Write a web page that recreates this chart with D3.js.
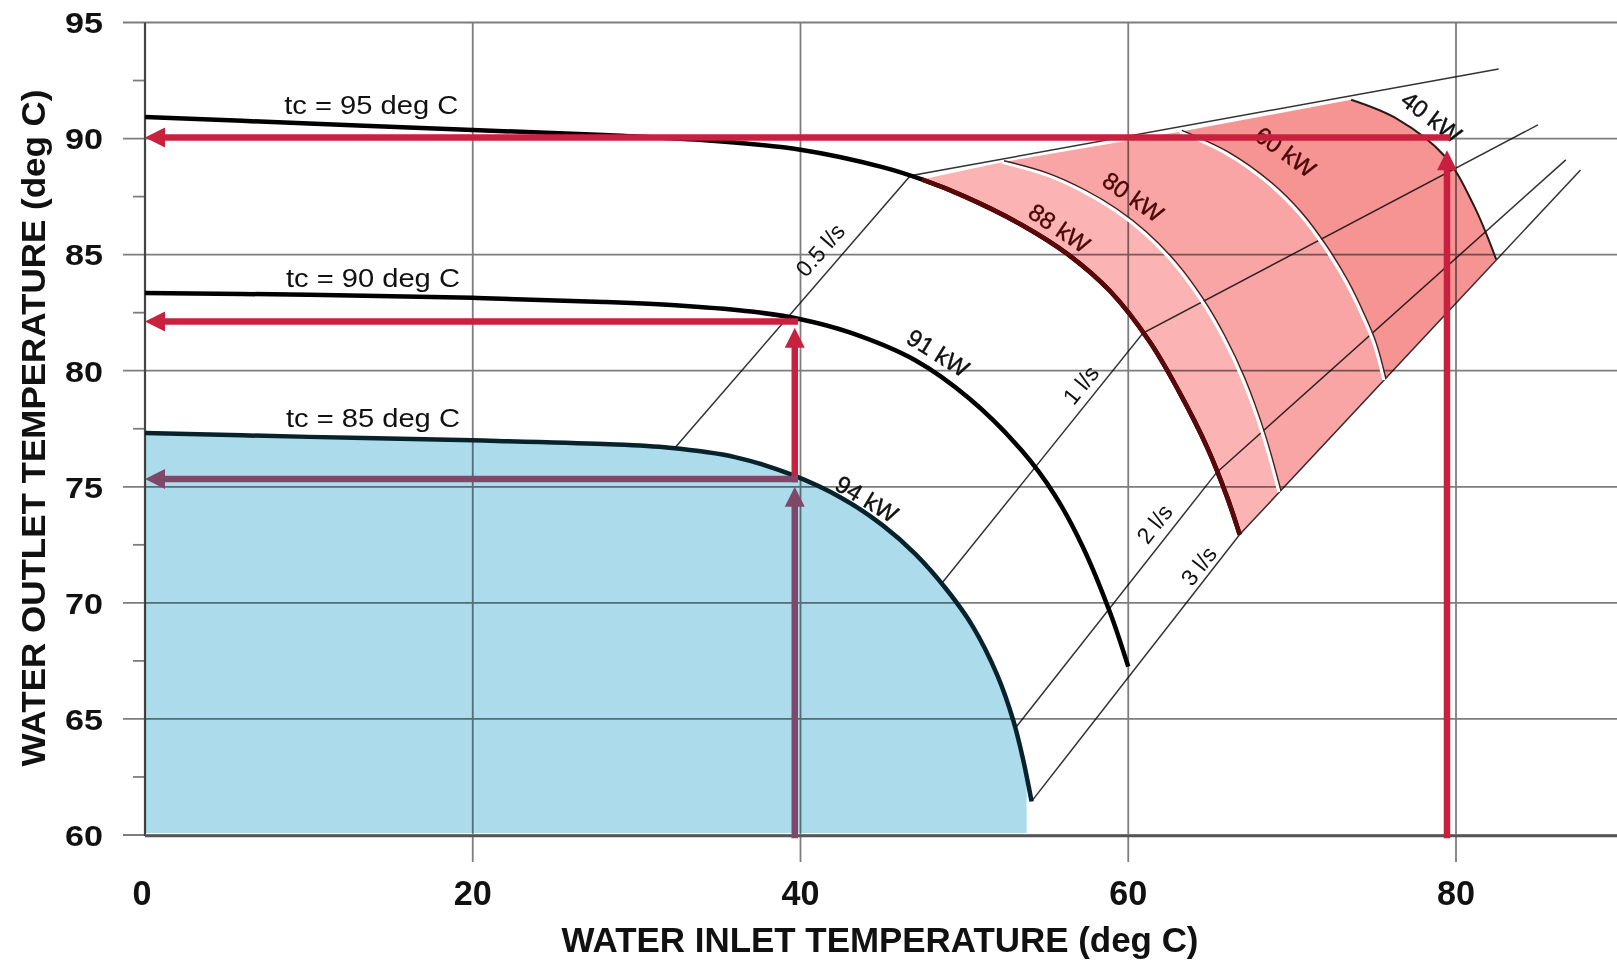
<!DOCTYPE html>
<html>
<head>
<meta charset="utf-8">
<script src="https://cdn.jsdelivr.net/npm/d3@7"></script>
<style>
html, body { margin: 0; padding: 0; background: #fff; }
svg { display: block; font-family: "Liberation Sans", Arial, sans-serif; }
</style>
</head>
<body>
<div id="chart"></div>
<script>
// --- --- Data (deg C) --- ---

var xTicks = [0, 20, 40, 60, 80];
var yTicks = [60, 65, 70, 75, 80, 85, 90, 95];
var yMinor = [62.5, 67.5, 72.5, 77.5, 82.5, 87.5, 92.5];

// outlet temperature for constant tc
var tc95X = [0, 10, 20, 28, 34, 40, 45, 47.4, 50, 53.4, 56.4, 58.9, 61.3, 63.1, 64.8, 66.0, 66.8];
var tc95Y = [90.93, 90.65, 90.37, 90.15, 89.94, 89.52, 88.77, 88.24, 87.51, 86.32, 84.97, 83.42, 81.26, 79.1, 76.72, 74.62, 72.94];
var tc90X = [0, 10, 20, 28, 33, 37, 40, 43, 47, 50.3, 53.5, 55.5, 57.2, 58.9, 60.0];
var tc90Y = [83.35, 83.27, 83.14, 82.96, 82.79, 82.55, 82.22, 81.65, 80.45, 78.8, 76.56, 74.66, 72.45, 69.56, 67.25];
var tc85X = [0, 10, 20, 28, 32, 36, 39.5, 42.5, 45, 47, 49, 50.5, 52, 53, 53.6, 54.1];
var tc85Y = [77.32, 77.15, 77.0, 76.84, 76.68, 76.28, 75.51, 74.52, 73.35, 72.11, 70.5, 69.0, 66.9, 64.9, 63.2, 61.45];
var tcLabels = ["tc = 95 deg C", "tc = 90 deg C", "tc = 85 deg C"];
var tcLabelX = [8.5, 8.6, 8.6];
var tcLabelY = [91.05, 83.6, 77.58];

// blue area ends here
var blueEndX = 53.8;

// flow rate lines
var flow05X = [32.3, 46.7, 82.6], flow05Y = [76.65, 88.4, 93.0];
var flow1X = [48.6, 60.9, 85.0], flow1Y = [70.82, 81.62, 90.59];
var flow2X = [53.1, 65.4, 86.7], flow2Y = [64.6, 75.62, 89.08];
var flow3X = [54.1, 66.8, 87.6], flow3Y = [61.45, 72.94, 88.65];
var flowLabels = ["0.5 l/s", "1 l/s", "2 l/s", "3 l/s"];
var flowLabelX = [41.2, 57.1, 61.6, 64.3];
var flowLabelY = [85.2, 79.39, 73.4, 71.59];

// pink region: top edge and kW isolines
var pinkTopX = [47.4, 52.3, 63.15, 73.6];
var pinkTopY = [88.24, 88.98, 90.29, 91.67];
var kw80X = [52.3, 55.0, 57.2, 59.2, 61.0, 62.8, 64.4, 65.8, 67.0, 68.2, 69.2];
var kw80Y = [88.98, 88.44, 87.74, 86.9, 85.91, 84.61, 83.09, 81.41, 79.61, 77.27, 74.77];
var kw60X = [63.15, 66.0, 68.6, 70.5, 72.0, 73.3, 74.3, 75.0, 75.6];
var kw60Y = [90.29, 89.35, 88.05, 86.72, 85.3, 83.8, 82.35, 81.16, 79.6];
var kw40X = [73.6, 76.4, 79.3, 81.1, 82.45];
var kw40Y = [91.67, 90.85, 89.25, 87.1, 84.8];
var kwLabels = ["94 kW", "91 kW", "88 kW", "80 kW", "60 kW", "40 kW"];
var kwLabelX = [44.05, 48.4, 55.8, 60.3, 69.6, 78.5];
var kwLabelY = [74.48, 80.77, 86.15, 87.49, 89.43, 90.93];

// reading arrows (from -> to)
var arrowX1 = [79.45, 79.45, 39.65, 39.65, 39.65, 39.65];
var arrowY1 = [90.05, 60, 82.12, 75.34, 75.34, 60];
var arrowX2 = [0, 79.45, 0, 39.65, 0, 39.65];
var arrowY2 = [90.05, 89.5, 82.12, 81.85, 75.34, 75.0];

// --- --- Setup --- ---

var width = 1617;
var height = 960;

var x = d3.scaleLinear().domain([0, 80]).range([145, 1456]);
var y = d3.scaleLinear().domain([60, 95]).range([835, 22.5]);

function pts(xs, ys) { return xs.map(function(v, i) { return [v, ys[i]]; }); }

var smooth = d3.line().x(d => x(d[0])).y(d => y(d[1])).curve(d3.curveCatmullRom.alpha(0.5));
var straight = d3.line().x(d => x(d[0])).y(d => y(d[1]));

// joins several open paths into one closed shape
function joinPaths(parts) {
    return parts.map(function(p, i) { return i == 0 ? p : p.replace(/^M/, "L"); }).join("") + "Z";
}

var tc95 = pts(tc95X, tc95Y), tc90 = pts(tc90X, tc90Y), tc85 = pts(tc85X, tc85Y);
var kw80 = pts(kw80X, kw80Y), kw60 = pts(kw60X, kw60Y), kw40 = pts(kw40X, kw40Y);
var pinkTop = pts(pinkTopX, pinkTopY);
var tc95Pink = tc95.filter(d => d[0] >= pinkTopX[0]);

const svg = d3.select("#chart").append("svg")
    .attr("width", width).attr("height", height)
    .attr("viewBox", [0, 0, width, height]);

var defs = svg.append("defs");
defs.append("clipPath").attr("id", "blueClip").append("rect")
    .attr("x", x(0)).attr("y", 0).attr("width", x(blueEndX) - x(0)).attr("height", height);
defs.append("clipPath").attr("id", "pinkClip").append("rect")
    .attr("x", x(pinkTopX[0])).attr("y", 0).attr("width", width).attr("height", height);

// --- Fills ---
var area = d3.area().x(d => x(d[0])).y0(y(60) - 2).y1(d => y(d[1])).curve(d3.curveCatmullRom.alpha(0.5));
svg.append("path").attr("d", area(tc85)).attr("fill", "#acdceb").attr("clip-path", "url(#blueClip)");

var band1 = joinPaths([straight(pinkTop.slice(0, 2)), smooth(kw80),
    straight([kw80[kw80.length - 1], tc95[tc95.length - 1]]), smooth(tc95Pink.slice().reverse())]);
var band2 = joinPaths([straight(pinkTop.slice(1, 3)), smooth(kw60),
    straight([kw60[kw60.length - 1], kw80[kw80.length - 1]]), smooth(kw80.slice().reverse())]);
var band3 = joinPaths([straight(pinkTop.slice(2, 4)), smooth(kw40),
    straight([kw40[kw40.length - 1], kw60[kw60.length - 1]]), smooth(kw60.slice().reverse())]);
svg.append("path").attr("d", band1).attr("fill", "#fcb3b3");
svg.append("path").attr("d", band2).attr("fill", "#f9a5a5");
svg.append("path").attr("d", band3).attr("fill", "#f69494");

// --- Grid (multiplied so it shows through the fills) ---
var grid = svg.append("g").style("mix-blend-mode", "multiply").attr("stroke", "#7d7d7d").attr("stroke-width", 1.8);
yTicks.forEach(function(t) {
    grid.append("line").attr("x1", 123).attr("x2", width).attr("y1", y(t)).attr("y2", y(t));
});
yMinor.forEach(function(t) {
    grid.append("line").attr("x1", 133).attr("x2", x(0)).attr("y1", y(t)).attr("y2", y(t));
});
xTicks.slice(1).forEach(function(t) {
    grid.append("line").attr("x1", x(t)).attr("x2", x(t)).attr("y1", y(95)).attr("y2", 862);
});
grid.append("line").attr("x1", x(0)).attr("x2", x(0)).attr("y1", y(95)).attr("y2", y(60) + 1)
    .attr("stroke", "#444").attr("stroke-width", 2.2);
grid.append("line").attr("x1", x(0)).attr("x2", width).attr("y1", y(60) + 1).attr("y2", y(60) + 1)
    .attr("stroke", "#555").attr("stroke-width", 2.6);

// --- Flow lines ---
var flows = svg.append("g").style("mix-blend-mode", "multiply")
    .attr("fill", "none").attr("stroke", "#333").attr("stroke-width", 1.5);
[[flow05X, flow05Y], [flow1X, flow1Y], [flow2X, flow2Y], [flow3X, flow3Y]].forEach(function(f) {
    flows.append("path").attr("d", straight(pts(f[0], f[1])));
});

// --- kW isolines ---
[kw80, kw60].forEach(function(c) {
    svg.append("path").attr("d", smooth(c)).attr("fill", "none").attr("stroke", "#fff").attr("stroke-width", 3.2);
    svg.append("path").attr("d", smooth(c)).attr("fill", "none").attr("stroke", "#3a2020")
        .attr("stroke-width", 1.3).attr("transform", "translate(2,-1.5)");
});
svg.append("path").attr("d", smooth(kw40)).attr("fill", "none").attr("stroke", "#2a1a1a").attr("stroke-width", 2);

// --- tc curves ---
svg.append("path").attr("d", smooth(tc95)).attr("fill", "none").attr("stroke", "#000").attr("stroke-width", 4.5);
svg.append("path").attr("d", smooth(tc95)).attr("fill", "none").attr("stroke", "#5c0808").attr("stroke-width", 4.5)
    .attr("clip-path", "url(#pinkClip)");
svg.append("path").attr("d", smooth(tc90)).attr("fill", "none").attr("stroke", "#000").attr("stroke-width", 4.5);
svg.append("path").attr("d", smooth(tc85)).attr("fill", "none").attr("stroke", "#08222c").attr("stroke-width", 4.5);

// --- Labels ---
tcLabels.forEach(function(t, i) {
    svg.append("text").attr("x", x(tcLabelX[i])).attr("y", y(tcLabelY[i]))
        .attr("font-size", 25).attr("fill", "#111")
        .attr("textLength", 174).attr("lengthAdjust", "spacingAndGlyphs").text(t);
});

var flowAngle = [-49, -51, -52, -52];
flowLabels.forEach(function(t, i) {
    svg.append("text")
        .attr("transform", "translate(" + x(flowLabelX[i]) + "," + y(flowLabelY[i]) + ") rotate(" + flowAngle[i] + ")")
        .attr("text-anchor", "middle").attr("dominant-baseline", "central")
        .attr("font-size", 23).attr("fill", "#111").text(t);
});

var kwAngle = [31, 32, 34, 35, 36, 37];
var kwColor = ["#111", "#111", "#4a0606", "#4a0606", "#4a0606", "#111"];
kwLabels.forEach(function(t, i) {
    svg.append("text")
        .attr("transform", "translate(" + x(kwLabelX[i]) + "," + y(kwLabelY[i]) + ") rotate(" + kwAngle[i] + ")")
        .attr("text-anchor", "middle").attr("dominant-baseline", "central")
        .attr("font-size", 24).attr("fill", kwColor[i]).attr("stroke", kwColor[i]).attr("stroke-width", 0.4)
        .text(t);
});

// tick labels
yTicks.forEach(function(t) {
    svg.append("text").attr("x", 103).attr("y", y(t)).attr("dy", "0.36em")
        .attr("text-anchor", "end").attr("font-size", 30).attr("font-weight", "bold").attr("fill", "#111")
        .attr("textLength", 38).attr("lengthAdjust", "spacingAndGlyphs").text(t);
});
xTicks.forEach(function(t) {
    var s = String(t);
    svg.append("text").attr("x", x(t) - (t == 0 ? 3 : 0)).attr("y", 905)
        .attr("text-anchor", "middle").attr("font-size", 35).attr("font-weight", "bold").attr("fill", "#111")
        .attr("textLength", 19 * s.length).attr("lengthAdjust", "spacingAndGlyphs").text(s);
});

// axis titles
svg.append("text").attr("x", 880).attr("y", 952).attr("text-anchor", "middle")
    .attr("font-size", 35).attr("font-weight", "bold").attr("fill", "#111")
    .attr("textLength", 637).attr("lengthAdjust", "spacingAndGlyphs")
    .text("WATER INLET TEMPERATURE (deg C)");
svg.append("text").attr("transform", "translate(45,428) rotate(-90)").attr("text-anchor", "middle")
    .attr("font-size", 34).attr("font-weight", "bold").attr("fill", "#111")
    .attr("textLength", 677).attr("lengthAdjust", "spacingAndGlyphs")
    .text("WATER OUTLET TEMPERATURE (deg C)");

// --- Arrows ---
function drawArrow(x1, y1, x2, y2, color) {
    var p0 = [x(x1), y(y1)], p1 = [x(x2), y(y2)];
    var dx = p1[0] - p0[0], dy = p1[1] - p0[1];
    var len = Math.sqrt(dx * dx + dy * dy);
    var ux = dx / len, uy = dy / len;
    var head = 20, half = 10;
    var bx = p1[0] - ux * head, by = p1[1] - uy * head;
    svg.append("line").attr("x1", p0[0]).attr("y1", p0[1]).attr("x2", bx + ux * 2).attr("y2", by + uy * 2)
        .attr("stroke", color).attr("stroke-width", 6.5).attr("stroke-linecap", "square");
    svg.append("path").attr("d", "M" + p1[0] + "," + p1[1] +
        "L" + (bx - uy * half) + "," + (by + ux * half) +
        "L" + (bx + uy * half) + "," + (by - ux * half) + "Z").attr("fill", color);
}
arrowX1.forEach(function(v, i) {
    drawArrow(arrowX1[i], arrowY1[i], arrowX2[i], arrowY2[i], i < 4 ? "#c8213f" : "#7f4868");
});
</script>
</body>
</html>
